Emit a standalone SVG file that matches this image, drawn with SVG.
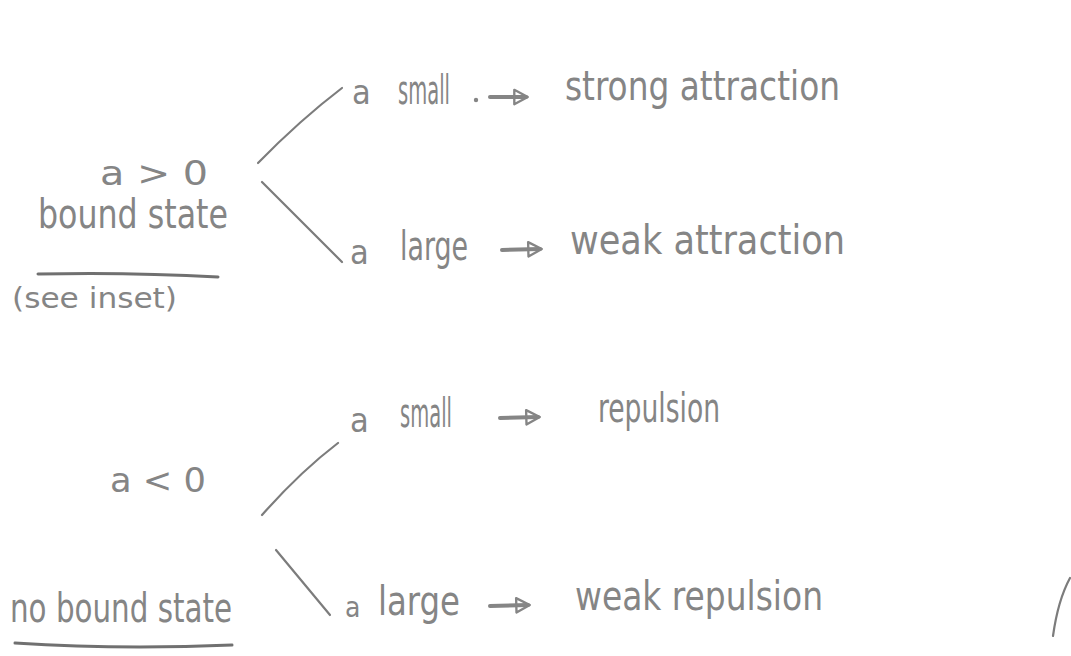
<svg xmlns="http://www.w3.org/2000/svg" width="1071" height="656" viewBox="0 0 1071 656">
  <style>
    .t { font-family: "DejaVu Sans Condensed", "Liberation Sans", sans-serif; fill: #858585; font-size: 40px; }
    .m { font-size: 34px; }
    .s { font-size: 28px; }
    .ln { stroke: #7c7c7c; stroke-width: 2.2; fill: none; stroke-linecap: round; }
    .ul { stroke: #707070; stroke-width: 3; fill: none; stroke-linecap: round; }
    .ar { stroke: #858585; stroke-width: 4; fill: none; stroke-linecap: round; }
  </style>
  <defs>
    <!-- open triangular arrowhead, like a pen-drawn "D" tip -->
    <marker id="head" viewBox="0 0 10 10" refX="8" refY="5" markerWidth="4.5" markerHeight="4.5" orient="auto" markerUnits="strokeWidth">
      <path d="M1.5,1 L9,5 L1.5,9 Z" fill="none" stroke="#858585" stroke-width="1.3" stroke-linejoin="round"/>
    </marker>
  </defs>
  <rect width="1071" height="656" fill="#ffffff"/>

  <!-- left-hand conditions -->
  <g id="bound">
    <text class="t m" x="100" y="185" textLength="108" lengthAdjust="spacingAndGlyphs">a &gt; 0</text>
    <text class="t" x="38" y="228" textLength="190" lengthAdjust="spacingAndGlyphs">bound state</text>
    <path class="ul" d="M38,274 Q130,272 218,277"/>
    <text class="t s" x="12" y="308" textLength="165" lengthAdjust="spacingAndGlyphs">(see inset)</text>
  </g>
  <g id="nobound">
    <text class="t m" x="110" y="492" textLength="96" lengthAdjust="spacingAndGlyphs">a &lt; 0</text>
    <text class="t" x="10" y="622" textLength="222" lengthAdjust="spacingAndGlyphs">no bound state</text>
    <path class="ul" d="M15,643 Q120,650 232,645"/>
  </g>

  <!-- branch strokes and arrows -->
  <g id="connectors">
    <path class="ln" d="M258,163 Q300,120 342,88"/>
    <path class="ln" d="M262,182 L342,262"/>
    <path class="ln" d="M262,515 Q300,472 338,443"/>
    <path class="ln" d="M276,550 L330,615"/>
    <circle cx="476" cy="100" r="2.2" fill="#858585"/>
    <path class="ar" d="M490,97 L526,97" marker-end="url(#head)"/>
    <path class="ar" d="M502,250 L540,249" marker-end="url(#head)"/>
    <path class="ar" d="M500,418 L538,417" marker-end="url(#head)"/>
    <path class="ar" d="M490,606 L528,605" marker-end="url(#head)"/>
    <path class="ln" d="M1053,636 Q1058,600 1070,578"/>
  </g>

  <!-- outcomes -->
  <g id="small-pos">
    <text class="t m" x="352" y="104">a</text>
    <text class="t" x="398" y="104" textLength="52" lengthAdjust="spacingAndGlyphs">small</text>
    <text class="t" x="565" y="100" textLength="275" lengthAdjust="spacingAndGlyphs">strong attraction</text>
  </g>
  <g id="large-pos">
    <text class="t m" x="350" y="264">a</text>
    <text class="t" x="400" y="260" textLength="68" lengthAdjust="spacingAndGlyphs">large</text>
    <text class="t" x="570" y="254" textLength="275" lengthAdjust="spacingAndGlyphs">weak attraction</text>
  </g>
  <g id="small-neg">
    <text class="t m" x="350" y="432">a</text>
    <text class="t" x="400" y="427" textLength="52" lengthAdjust="spacingAndGlyphs">small</text>
    <text class="t" x="598" y="422" textLength="122" lengthAdjust="spacingAndGlyphs">repulsion</text>
  </g>
  <g id="large-neg">
    <text class="t s" x="345" y="617">a</text>
    <text class="t" x="378" y="615" textLength="82" lengthAdjust="spacingAndGlyphs">large</text>
    <text class="t" x="575" y="610" textLength="248" lengthAdjust="spacingAndGlyphs">weak repulsion</text>
  </g>
</svg>
